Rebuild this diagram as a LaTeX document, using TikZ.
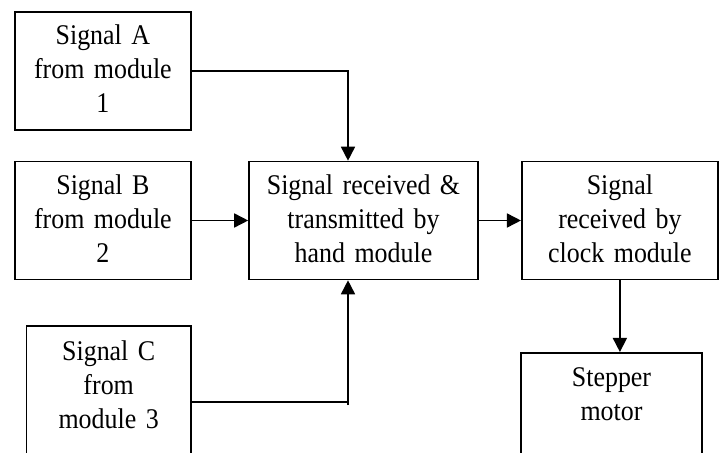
\documentclass[tikz,border=0pt]{standalone}
\usepackage{fontspec}
\setmainfont{Liberation Serif}
\newfontfamily\boxfont[FakeStretch=0.91,WordSpace=0.6]{Liberation Serif}
\usetikzlibrary{arrows.meta}
\usetikzlibrary{calc}
\usetikzlibrary{math}

\tikzset{
  block/.style={draw, line width=1.6bp, inner sep=0pt, align=center,
    anchor=north, text height=33bp, text depth=85bp,
    font=\boxfont\fontsize{28.5bp}{34bp}\selectfont},
  openblock/.style={block, text height=35bp, text depth=140bp},
  signal/.style={line width=1.6bp, -{Triangle[length=14bp,width=14bp]}},
}

\begin{document}
\begin{tikzpicture}[x=1bp,y=-1bp]

  \tikzmath{
    \mergex = 348; % x of the line that joins signal A and C
  }

  \useasboundingbox (0,0) rectangle (720,453);
  \clip (0,0) rectangle (720,453);

  % incoming signals
  \node[block, text width=175.7bp] (sigA) at (102.9,11) {Signal A\\from module\\1};
  \node[block, text width=175.7bp] (sigB) at (102.9,160.7) {Signal B\\from module\\2};
  \node[openblock, text width=164bp] (sigC) at (108.7,325) {Signal C\\from\\module 3};

  % modules
  \node[block, text width=229bp] (hand) at (363.5,160.7) {Signal received \&\\transmitted by\\hand module};
  \node[block, text width=196.3bp] (clock) at (619.9,160.7) {Signal\\received by\\clock module};
  \node[openblock, text width=181bp, text height=34bp] (motor) at (611.5,352) {Stepper\\motor};

  % merge point under the hand module
  \coordinate (merge) at (\mergex,405);

  \draw[signal] (sigA.east) -| (merge |- hand.north);
  \draw[signal] (sigB.east) -- (hand.west);
  \draw[line width=1.6bp] ([yshift=-76.7bp]sigC.north east) -- ++(\mergex-190.7,0);
  \draw[signal] (merge) -- (merge |- hand.south);

  \draw[signal] (hand.east) -- (clock.west);
  \draw[signal] (clock.south) -- (clock.south |- motor.north);

\end{tikzpicture}
\end{document}
